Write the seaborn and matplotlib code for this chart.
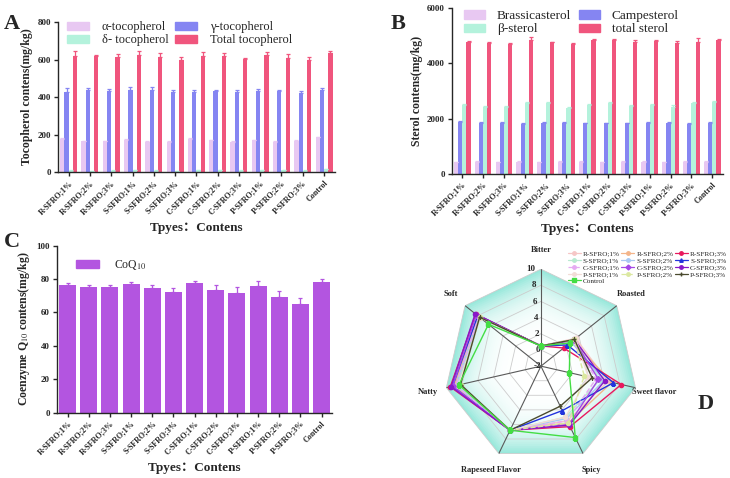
import numpy as np
import pandas as pd
import matplotlib
matplotlib.use("Agg")
import matplotlib.pyplot as plt
import seaborn as sns
from matplotlib.patches import Patch
from matplotlib.lines import Line2D

# ── data ────────────────────────────────────────────────────────────────────
groups = ['R-SFRO;1%', 'R-SFRO;2%', 'R-SFRO;3%', 'S-SFRO;1%', 'S-SFRO;2%',
          'S-SFRO;3%', 'C-SFRO;1%', 'C-SFRO;2%', 'C-SFRO;3%', 'P-SFRO;1%',
          'P-SFRO;2%', 'P-SFRO;3%', 'Control']

# A: tocopherols (mg/kg)
alpha_toc = [175, 165, 165, 172, 160, 160, 178, 170, 162, 170, 162, 168, 185]
gamma_toc = [428, 438, 432, 440, 440, 425, 425, 430, 428, 433, 430, 420, 437]
delta_toc = [8, 7, 8, 9, 8, 7, 9, 10, 8, 12, 9, 8, 15]
total_toc = [618, 618, 612, 626, 614, 598, 618, 617, 604, 622, 608, 598, 636]
alpha_err = [4, 3, 3, 4, 3, 3, 4, 3, 3, 3, 3, 3, 4]
gamma_err = [18, 10, 12, 16, 12, 12, 12, 10, 10, 10, 10, 10, 10]
delta_err = [1, 1, 1, 1, 1, 1, 1, 1, 1, 1, 1, 1, 1]
total_err = [30, 4, 20, 20, 20, 15, 22, 20, 4, 18, 22, 16, 12]

# B: sterols (mg/kg)
brassica = [430, 450, 430, 440, 420, 440, 440, 430, 450, 450, 430, 440, 440]
campe = [1870, 1850, 1860, 1820, 1840, 1860, 1830, 1830, 1830, 1850, 1850, 1820, 1850]
beta_ster = [2500, 2420, 2420, 2580, 2550, 2380, 2500, 2570, 2470, 2500, 2440, 2560, 2600]
total_ster = [4780, 4730, 4720, 4850, 4760, 4700, 4850, 4830, 4760, 4820, 4730, 4790, 4850]
brassica_err = [20, 20, 20, 20, 20, 20, 20, 20, 20, 20, 20, 20, 20]
campe_err = [30, 30, 30, 30, 30, 30, 30, 30, 30, 30, 30, 30, 30]
beta_err = [40, 40, 40, 40, 40, 40, 40, 40, 40, 40, 40, 40, 40]
total_ster_err = [40, 40, 20, 120, 30, 30, 40, 60, 70, 30, 80, 120, 40]

# C: coenzyme Q10 (mg/kg)
coq10 = [76.5, 75.5, 75.0, 77.0, 74.8, 72.5, 77.5, 73.5, 71.8, 76.0, 69.0, 65.2, 78.3]
coq10_err = [1.0, 1.0, 1.5, 1.5, 1.5, 2.0, 1.5, 3.0, 3.5, 3.0, 4.0, 3.5, 1.5]

# D: sensory scores
attributes = ['Bitter', 'Roasted', 'Sweet flavor', 'Spicy', 'Rapeseed Flavor', 'Natty', 'Soft']
sensory = {
    'R-SFRO;1%': [0.5, 3.5, 6.5, 5.5, 6.8, 8.8, 7.8],
    'R-SFRO;2%': [0.5, 3.0, 7.0, 5.8, 6.8, 9.0, 8.0],
    'R-SFRO;3%': [0.5, 1.6, 8.2, 6.3, 6.8, 9.5, 8.3],
    'S-SFRO;1%': [0.5, 3.2, 5.5, 5.0, 6.8, 8.6, 7.6],
    'S-SFRO;2%': [0.5, 2.8, 6.0, 5.2, 6.8, 8.8, 7.8],
    'S-SFRO;3%': [0.5, 2.2, 7.2, 4.1, 6.8, 9.2, 8.0],
    'C-SFRO;1%': [0.5, 3.0, 5.0, 5.5, 6.8, 8.8, 7.8],
    'C-SFRO;2%': [0.5, 3.2, 5.3, 6.0, 6.8, 9.2, 8.2],
    'C-SFRO;3%': [0.5, 3.3, 6.1, 6.1, 6.8, 9.4, 8.4],
    'P-SFRO;1%': [0.5, 3.5, 4.0, 5.0, 6.8, 8.4, 7.6],
    'P-SFRO;2%': [0.5, 3.3, 3.5, 5.8, 6.8, 8.2, 7.7],
    'P-SFRO;3%': [0.5, 3.3, 4.5, 3.5, 6.8, 8.2, 7.7],
    'Control': [0.5, 2.6, 1.6, 7.8, 6.8, 8.4, 6.3],
}
radar_ticks = [-2, 0, 2, 4, 6, 8, 10]

# ── style ───────────────────────────────────────────────────────────────────
sns.set_style("ticks")
plt.rcParams['font.family'] = ['Liberation Serif', 'Noto Sans CJK SC']
plt.rcParams['mathtext.fontset'] = 'stix'
plt.rcParams['axes.linewidth'] = 1.0

fig = plt.figure(figsize=(7.3, 4.78), dpi=100)

lav, aqua, blue, pink = '#e8c8f2', '#b4f2dc', '#8585f2', '#f0557d'


def bar_panel(ax, names, values, errs, colors, ticks, ylabel):
    long = pd.DataFrame({
        'group': np.tile(groups, len(names)),
        'comp': np.repeat(names, len(groups)),
        'value': np.concatenate(values),
    })
    sns.barplot(data=long, x='group', y='value', hue='comp', hue_order=names,
                palette=colors, errorbar=None, width=0.8, saturation=1,
                linewidth=0, legend=False, ax=ax)
    for cont, err, c in zip(ax.containers, errs, colors):
        xs = [p.get_x() + p.get_width() / 2 for p in cont]
        hs = [p.get_height() for p in cont]
        ax.errorbar(xs, hs, yerr=[np.zeros(len(err)), err], fmt='none',
                    ecolor=c, elinewidth=0.9, capsize=1.6, capthick=0.9)
    ax.set_ylim(0, ticks[-1])
    ax.set_yticks(ticks)
    ax.set_xlim(-0.5, len(groups) - 0.5)
    ax.set_xticks(range(len(groups)))
    ax.set_xticklabels(groups, rotation=45, ha='right', rotation_mode='anchor',
                       fontsize=5.8, fontweight='bold')
    for t in ax.get_yticklabels():
        t.set_fontsize(6.5)
        t.set_fontweight('bold')
    ax.set_ylabel(ylabel, fontsize=8.5, fontweight='bold', labelpad=3)
    ax.set_xlabel('Tpyes：Contens', fontsize=9.5, fontweight='bold', labelpad=4)
    ax.tick_params(length=3, width=1, pad=2)
    sns.despine(ax=ax)


# ── A: tocopherol ───────────────────────────────────────────────────────────
axA = fig.add_axes([0.0795, 0.640, 0.379, 0.314])
toc_names = ['α-tocopherol', 'γ-tocopherol', 'δ- tocopherol', 'Total tocopherol']
bar_panel(axA, toc_names, [alpha_toc, gamma_toc, delta_toc, total_toc],
          [alpha_err, gamma_err, delta_err, total_err], [lav, blue, aqua, pink],
          [0, 200, 400, 600, 800], 'Tocopherol contens(mg/kg)')
hA = [Patch(color=c) for c in [lav, aqua, blue, pink]]
axA.legend(hA, [toc_names[0], toc_names[2], toc_names[1], toc_names[3]],
           ncol=2, frameon=False, fontsize=9, loc='upper left',
           bbox_to_anchor=(-0.01, 1.08), handlelength=1.8, handleheight=0.6,
           columnspacing=0.5, handletextpad=1.0, labelspacing=0.1)

# ── B: sterol ───────────────────────────────────────────────────────────────
axB = fig.add_axes([0.619, 0.636, 0.371, 0.347])
ster_names = ['Brassicasterol', 'Campesterol', 'β-sterol', 'total sterol']
bar_panel(axB, ster_names, [brassica, campe, beta_ster, total_ster],
          [brassica_err, campe_err, beta_err, total_ster_err], [lav, blue, aqua, pink],
          [0, 2000, 4000, 6000], 'Sterol contens(mg/kg)')
hB = [Patch(color=c) for c in [lav, aqua, blue, pink]]
axB.legend(hB, [ster_names[0], ster_names[2], ster_names[1], ster_names[3]],
           ncol=2, frameon=False, fontsize=9.5, loc='upper left',
           bbox_to_anchor=(0.0, 1.06), handlelength=1.6, handleheight=0.6,
           columnspacing=0.6, handletextpad=0.9, labelspacing=0.1)

# ── C: CoQ10 ────────────────────────────────────────────────────────────────
axC = fig.add_axes([0.078, 0.137, 0.377, 0.349])
purple = '#b355e0'
bar_panel(axC, ['CoQ$_{10}$'], [coq10], [coq10_err], [purple],
          [0, 20, 40, 60, 80, 100], 'Coenzyme Q$_{10}$ contens(mg/kg)')
axC.legend([Patch(color=purple)], ['CoQ$_{10}$'], frameon=False, fontsize=8.5,
           loc='upper left', bbox_to_anchor=(0.03, 0.99), handlelength=2.0,
           handleheight=0.6, handletextpad=1.2)

# ── D: radar ────────────────────────────────────────────────────────────────
axD = fig.add_axes([0.608, 0.031, 0.266, 0.406], projection='polar')
axD.set_theta_offset(np.pi / 2)
axD.set_theta_direction(-1)
axD.set_ylim(-2, 10)
n = len(attributes)
ang = np.linspace(0, 2 * np.pi, n, endpoint=False)
ang_c = np.append(ang, ang[0])

# gradient background: concentric heptagons, white centre to cyan rim
levels = np.linspace(10, -2, 48)
c_out = np.array([0.60, 0.91, 0.86])
for i, r in enumerate(levels):
    f = 1 - i / (len(levels) - 1)
    col = 1 - (1 - c_out) * (f ** 4)
    axD.fill(ang_c, [r] * (n + 1), color=col, lw=0, zorder=0)
for r in radar_ticks[1:]:
    axD.plot(ang_c, [r] * (n + 1), color='#cccccc', lw=0.6, zorder=1)
for a in ang:
    axD.plot([a, a], [-2, 10], color='#5a5a5a', lw=0.8, zorder=1)
axD.grid(False)
axD.spines['polar'].set_visible(False)
axD.set_yticklabels([])
axD.set_xticks(ang)
axD.set_xticklabels(attributes, fontsize=6, fontweight='bold')
axD.tick_params(axis='x', pad=3)
for r in radar_ticks:
    axD.text(-0.06, r, str(r), fontsize=6.5, fontweight='bold', ha='right', va='center')

styles = {
    'R-SFRO;1%': ('#f6c6c6', 'o', '-'), 'R-SFRO;2%': ('#f4b58a', 'o', '-'),
    'R-SFRO;3%': ('#e8185e', 'o', '-'),
    'S-SFRO;1%': ('#b8ead0', 'o', '-'), 'S-SFRO;2%': ('#a8c8f2', 'o', '-'),
    'S-SFRO;3%': ('#2233dd', '^', '-'),
    'C-SFRO;1%': ('#e6aaf2', 'o', '--'), 'C-SFRO;2%': ('#a548e6', 'D', '-'),
    'C-SFRO;3%': ('#8818c8', 'o', '-'),
    'P-SFRO;1%': ('#f2dcd6', 'o', '-'), 'P-SFRO;2%': ('#dbe8a0', 'o', '--'),
    'P-SFRO;3%': ('#4a4a2e', '+', '-'),
    'Control': ('#44dd44', 's', '-'),
}
handles = {}
for name, vals in sensory.items():
    c, m, ls = styles[name]
    v = np.append(vals, vals[0])
    axD.plot(ang_c, v, color=c, marker=m, ls=ls, lw=1.0, ms=3, zorder=3)
    handles[name] = Line2D([], [], color=c, marker=m, ls=ls, lw=0.9, ms=2.5)

# legend laid out row by row (R / S / C / P, then Control)
leg_order = ['R-SFRO;1%', 'S-SFRO;1%', 'C-SFRO;1%', 'P-SFRO;1%', 'Control',
             'R-SFRO;2%', 'S-SFRO;2%', 'C-SFRO;2%', 'P-SFRO;2%',
             'R-SFRO;3%', 'S-SFRO;3%', 'C-SFRO;3%', 'P-SFRO;3%']
fig.legend([handles[k] for k in leg_order], leg_order, ncol=3, fontsize=5.2,
           frameon=False, loc='upper right', bbox_to_anchor=(1.005, 0.49),
           handlelength=1.8, columnspacing=0.2, handletextpad=0.3, labelspacing=0.12)

# panel letters
for x, y, s in [(0.005, 0.97, 'A'), (0.535, 0.97, 'B'), (0.005, 0.515, 'C'), (0.955, 0.175, 'D')]:
    fig.text(x, y, s, fontsize=16, fontweight='bold', va='top')

plt.savefig("out.png", dpi=100)
